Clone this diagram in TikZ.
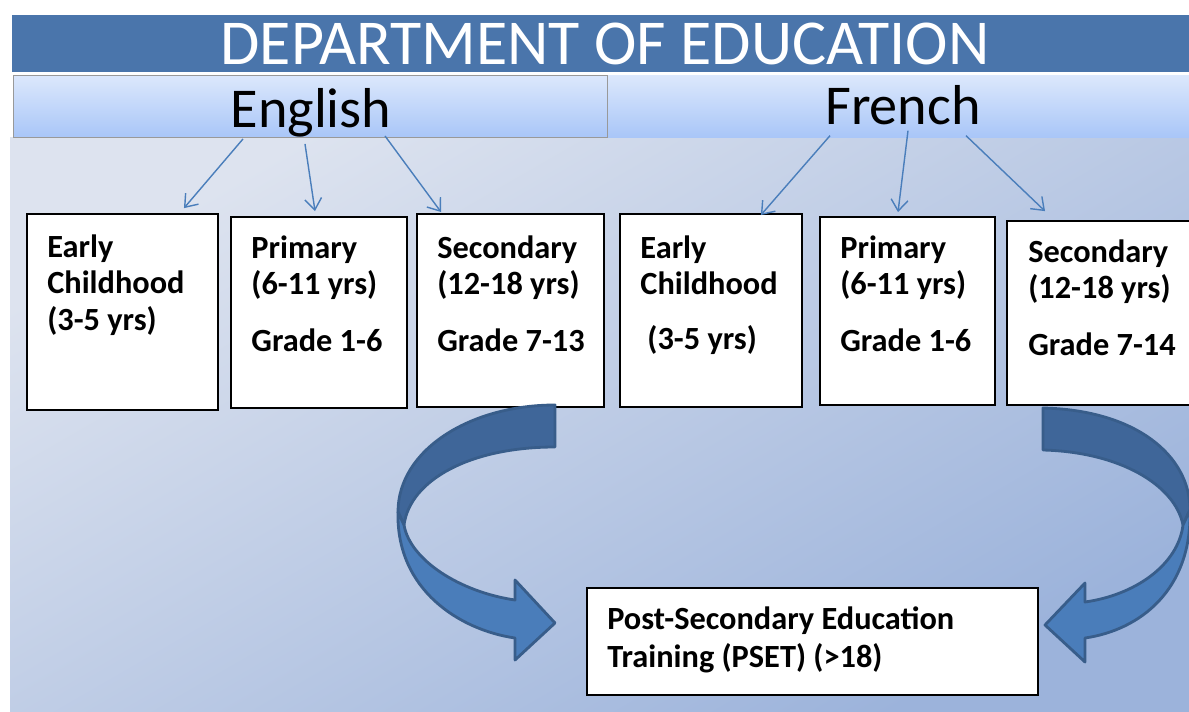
\documentclass[tikz,border=0pt]{standalone}
\usepackage{fontspec}
\setmainfont{Carlito}
\usetikzlibrary{calc, positioning, arrows.meta}

\definecolor{titleblue}{HTML}{4A75AB}
\definecolor{linkblue}{HTML}{4A7EBB}
\definecolor{bandtop}{HTML}{DCE8FC}
\definecolor{bandbot}{HTML}{A9C6F8}
\definecolor{panelA}{HTML}{DDE3EF}
\definecolor{panelB}{HTML}{9CB3DB}
\definecolor{bigdark}{HTML}{3F6699}
\definecolor{biglight}{HTML}{4A7DBA}
\definecolor{bigline}{HTML}{385D8A}

\begin{document}
\begin{tikzpicture}[x=0.025cm, y=-0.025cm, >={Straight Barb[length=8pt,width=12pt]},
  box/.style={draw, line width=1.2pt, fill=white, inner sep=0pt},
  lbl/.style={anchor=north west, inner sep=0pt, align=left, font=\fontsize{23}{26.2}\selectfont\bfseries},
  lang/.style={anchor=base, inner sep=0pt, font=\fontsize{40}{40}\selectfont},
  link/.style={->, linkblue, line width=1pt},
  bigarrow/.style={draw=bigline, line width=2pt, line join=round}]
  \useasboundingbox [fill=white] (0,0) rectangle (1189,711);
  % background
  \shade [top color=panelA, bottom color=panelB, shading angle=30] (10,137) rectangle (1189,711);
  \fill [titleblue] (12,15) rectangle (1189,72);
  \shade [top color=bandtop, bottom color=bandbot] (607,75) rectangle (1189,137);
  \shadedraw [top color=bandtop, bottom color=bandbot, draw=gray!80] (13,75) rectangle (607,137);
  \node (dept) at (605,64) [anchor=base, inner sep=0pt, text=white, font=\fontsize{45.5}{45.5}\selectfont] {DEPARTMENT OF EDUCATION};
  \node (en) at (311,127) [lang] {English};
  \node (fr) at (903,124) [lang] {French};

  % levels
  \node (e1) at (122.5,312) [box, minimum width=4.78cm, minimum height=4.9cm] {};
  \node (e2) at (319,312.5) [box, minimum width=4.4cm, minimum height=4.78cm] {};
  \node (e3) at (510.5,310.5) [box, minimum width=4.68cm, minimum height=4.83cm] {};
  \node (f1) at (711,310.5) [box, minimum width=4.55cm, minimum height=4.83cm] {};
  \node (f2) at (907.5,311) [box, minimum width=4.38cm, minimum height=4.7cm] {};
  \node (f3) at (1103.5,313) [box, minimum width=4.83cm, minimum height=4.6cm] {};
  \node (pset) at (812.5,641.5) [box, minimum width=11.28cm, minimum height=2.68cm] {};

  \node at ($(e1.north west)+(21,21)$) [lbl] {Early\\Childhood\\(3-5 yrs)};
  \node at ($(e2.north west)+(21,19)$) [lbl] {Primary\\(6-11 yrs)\\[14pt]Grade 1-6};
  \node at ($(e3.north west)+(21,22)$) [lbl] {Secondary\\(12-18 yrs)\\[14pt]Grade 7-13};
  \node at ($(f1.north west)+(21,22)$) [lbl] {Early\\Childhood\\[13pt]\hspace*{5pt}(3-5 yrs)};
  \node at ($(f2.north west)+(21,19)$) [lbl] {Primary\\(6-11 yrs)\\[14pt]Grade 1-6};
  \node at ($(f3.north west)+(22,19)$) [lbl] {Secondary\\(12-18 yrs)\\[14pt]Grade 7-14};
  \node at ($(pset.north west)+(21,19)$) [lbl, font=\fontsize{23}{27.6}\selectfont\bfseries] {Post-Secondary Education\\Training (PSET) (>18)};

  % language to level
  \draw [link] ($(en.south)+(-68,2)$) -- ($(e1.north east)+(-35,-5)$);
  \draw [link] ($(en.south)+(-6,7)$) -- ($(e2.north)+(-4,-5)$);
  \draw [link] ($(en.south)+(74,-1)$) -- ($(e3.north west)+(25,-1)$);
  \draw [link] ($(fr.south)+(-73,11)$) -- ($(f1.north east)+(-42,2)$);
  \draw [link] ($(fr.south)+(5,6)$) -- ($(f2.north)+(-9.5,-4)$);
  \draw [link] ($(fr.south)+(63,11)$) -- ($(f3.north west)+(39,-9)$);

  % curved arrows to PSET
  \filldraw [bigarrow, fill=bigdark] (555,405) .. controls (470,405) and (398,450) .. (398,512) -- (404,525) .. controls (410,480) and (470,447) .. (555,447) -- cycle;
  \filldraw [bigarrow, fill=biglight] (398,512) .. controls (396,590) and (460,630) .. (515,638) -- (515,660) -- (555,623) -- (515,580) -- (515,600) .. controls (460,592) and (410,560) .. (404,525) -- cycle;
  \filldraw [bigarrow, fill=bigdark] (1043,408) .. controls (1135,410) and (1190,455) .. (1190,510) -- (1183,525) .. controls (1175,485) and (1120,452) .. (1043,450) -- cycle;
  \filldraw [bigarrow, fill=biglight] (1190,510) .. controls (1192,590) and (1140,630) .. (1085,638) -- (1085,662) -- (1045,625) -- (1085,583) -- (1085,602) .. controls (1135,595) and (1178,565) .. (1183,525) -- cycle;
\end{tikzpicture}
\end{document}
